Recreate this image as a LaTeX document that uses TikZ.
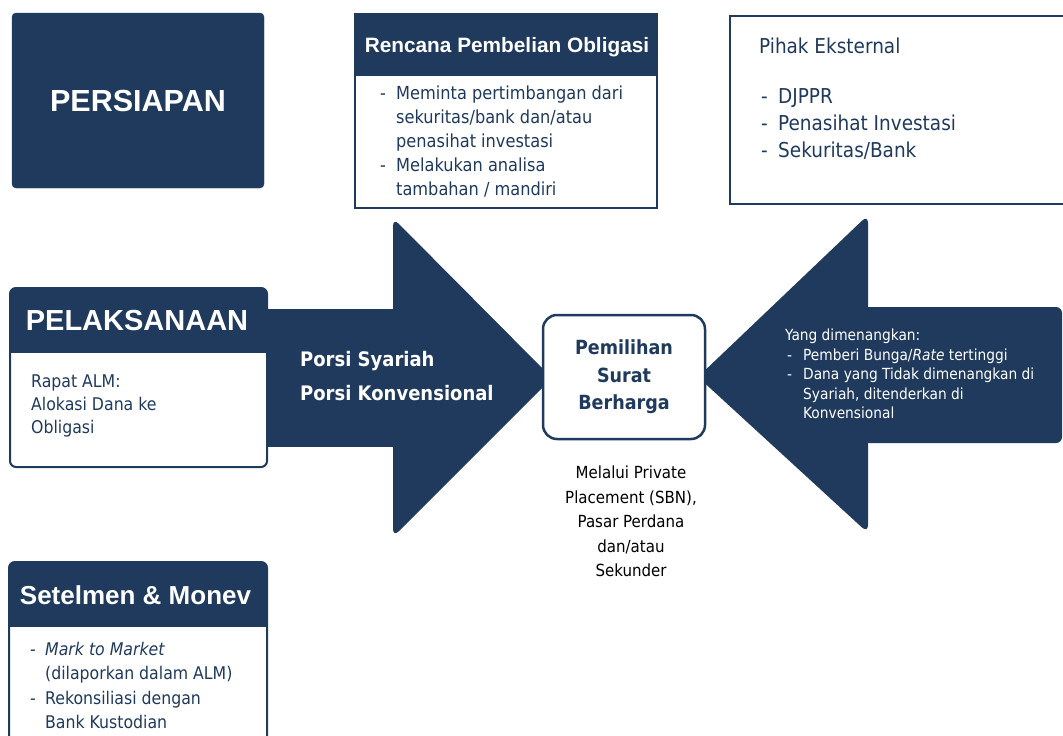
\documentclass[tikz,border=0pt]{standalone}
\usepackage{fontspec}
\setmainfont{Liberation Sans}
\newfontfamily\tah{DejaVu Sans Condensed}
\newfontfamily\ari{Liberation Sans}
\definecolor{navy}{RGB}{31,58,92}
\newcommand\setfs[2]{\fontsize{#1}{#2}\selectfont}
\newcommand\bulletdash[1]{\makebox[#1][l]{-}}
\newcommand\bulletind[1]{\hspace*{#1}}
\tikzset{
  darkfill/.style={fill=navy, draw=navy},
  whitebox/.style={draw=navy, fill=white, line width=2pt, inner sep=0pt, outer sep=0pt},
  plainbox/.style={inner sep=0pt, outer sep=0pt},
  headtext/.style={text=white, inner sep=0pt, font=\ari\bfseries},
  bodytext/.style={text=navy, inner sep=0pt, align=left, anchor=north west},
}
\begin{document}
\begin{tikzpicture}[x=1pt,y=-1pt]
\useasboundingbox (0,0) rectangle (1063,736);
\clip (0,0) rectangle (1063,736);

% ---------- arrows ----------
\fill[navy] (255,309) rectangle (400,447);
\fill[navy, rounded corners=8pt] (393,218) -- (552,378) -- (393,537) -- cycle;
\fill[navy, rounded corners=8pt] (868,215) -- (698,377) -- (868,533) -- cycle;
\fill[navy, rounded corners=6pt] (860,307) rectangle (1062,443);

% ---------- PERSIAPAN ----------
\node[plainbox, darkfill, rounded corners=4pt, minimum width=252pt, minimum height=175pt, anchor=north west] (persiapan) at (12,13) {};
\node[headtext, font=\ari\bfseries\setfs{30.5}{36}] (persiapant) at (persiapan.center) {PERSIAPAN};

% ---------- Rencana ----------
\node[whitebox, minimum width=302pt, minimum height=194pt, anchor=north west] (rencana) at (355,14) {};
\node[plainbox, darkfill, minimum width=302pt, minimum height=61pt, anchor=north west] (rencanahead) at (355,14) {};
\node[headtext, font=\ari\bfseries\setfs{20.8}{24}] (rencanat) at (507,47) {Rencana Pembelian Obligasi};
\node[bodytext, font=\tah\setfs{18}{24}] (rencanab) at (380,85.8)
 {\bulletdash{16pt}Meminta pertimbangan dari\\\bulletind{16pt}sekuritas/bank dan/atau\\\bulletind{16pt}penasihat investasi\\\bulletdash{16pt}Melakukan analisa\\\bulletind{16pt}tambahan / mandiri};

% ---------- Pihak Eksternal ----------
\node[whitebox, line width=2.5pt, minimum width=345pt, minimum height=188pt, anchor=north west] (pihak) at (730,16) {};
\node[bodytext, font=\tah\setfs{20.5}{24}] (pihakt) at (759,37.8) {Pihak Eksternal};
\node[bodytext, font=\tah\setfs{20.5}{27}] (pihakb) at (761,88.8)
 {\bulletdash{17pt}DJPPR\\\bulletdash{17pt}Penasihat Investasi\\\bulletdash{17pt}Sekuritas/Bank};

% ---------- PELAKSANAAN ----------
\node[whitebox, rounded corners=6pt, minimum width=257pt, minimum height=179pt, anchor=north west] (pelak) at (10,288) {};
\begin{scope}
\clip[rounded corners=6pt] (10,288) rectangle (267,467);
\fill[navy] (10,288) rectangle (267,353);
\end{scope}
\node[headtext, font=\ari\bfseries\setfs{29}{34}] (pelakt) at (137,320.5) {PELAKSANAAN};
\node[bodytext, font=\tah\setfs{17.5}{23}] (pelakb) at (31,375)
 {Rapat ALM:\\Alokasi Dana ke\\Obligasi};

% ---------- Porsi ----------
\node[bodytext, text=white, font=\tah\bfseries\setfs{20}{34}] (porsi) at (300,351)
 {Porsi Syariah\\Porsi Konvensional};

% ---------- Pemilihan ----------
\node[whitebox, line width=2.5pt, rounded corners=14pt, minimum width=162pt, minimum height=124pt] (pemilihan) at (624,377) {};
\node[plainbox, text=navy, align=center, font=\tah\bfseries\setfs{19.5}{27.5}] (pemilihant) at (pemilihan.center) {Pemilihan\\Surat\\Berharga};
\node[plainbox, text=black, align=center, anchor=north, font=\tah\setfs{16.7}{24.5}] (melalui) at (631,466.3)
 {Melalui Private\\Placement (SBN),\\Pasar Perdana\\dan/atau\\Sekunder};

% ---------- Yang dimenangkan ----------
\node[bodytext, text=white, font=\tah\setfs{15.3}{19.5}] (yang) at (785,328.9)
 {Yang dimenangkan:\\\hspace*{2pt}\bulletdash{16pt}Pemberi Bunga/\textit{Rate} tertinggi\\\hspace*{2pt}\bulletdash{16pt}Dana yang Tidak dimenangkan di\\\bulletind{18pt}Syariah, ditenderkan di\\\bulletind{18pt}Konvensional};

% ---------- Setelmen ----------
\node[whitebox, rounded corners=6pt, minimum width=258pt, minimum height=200pt, anchor=north west] (setel) at (9,562) {};
\begin{scope}
\clip[rounded corners=6pt] (9,562) rectangle (267,762);
\fill[navy] (9,562) rectangle (267,627);
\end{scope}
\node[headtext, font=\ari\bfseries\setfs{26}{30}] (setelt) at (135.5,595) {Setelmen \& Monev};
\node[bodytext, font=\tah\setfs{17.5}{24.3}] (setelb) at (30,642)
 {\bulletdash{15pt}\textit{Mark to Market}\\\bulletind{15pt}(dilaporkan dalam ALM)\\\bulletdash{15pt}Rekonsiliasi dengan\\\bulletind{15pt}Bank Kustodian};
\end{tikzpicture}
\end{document}
